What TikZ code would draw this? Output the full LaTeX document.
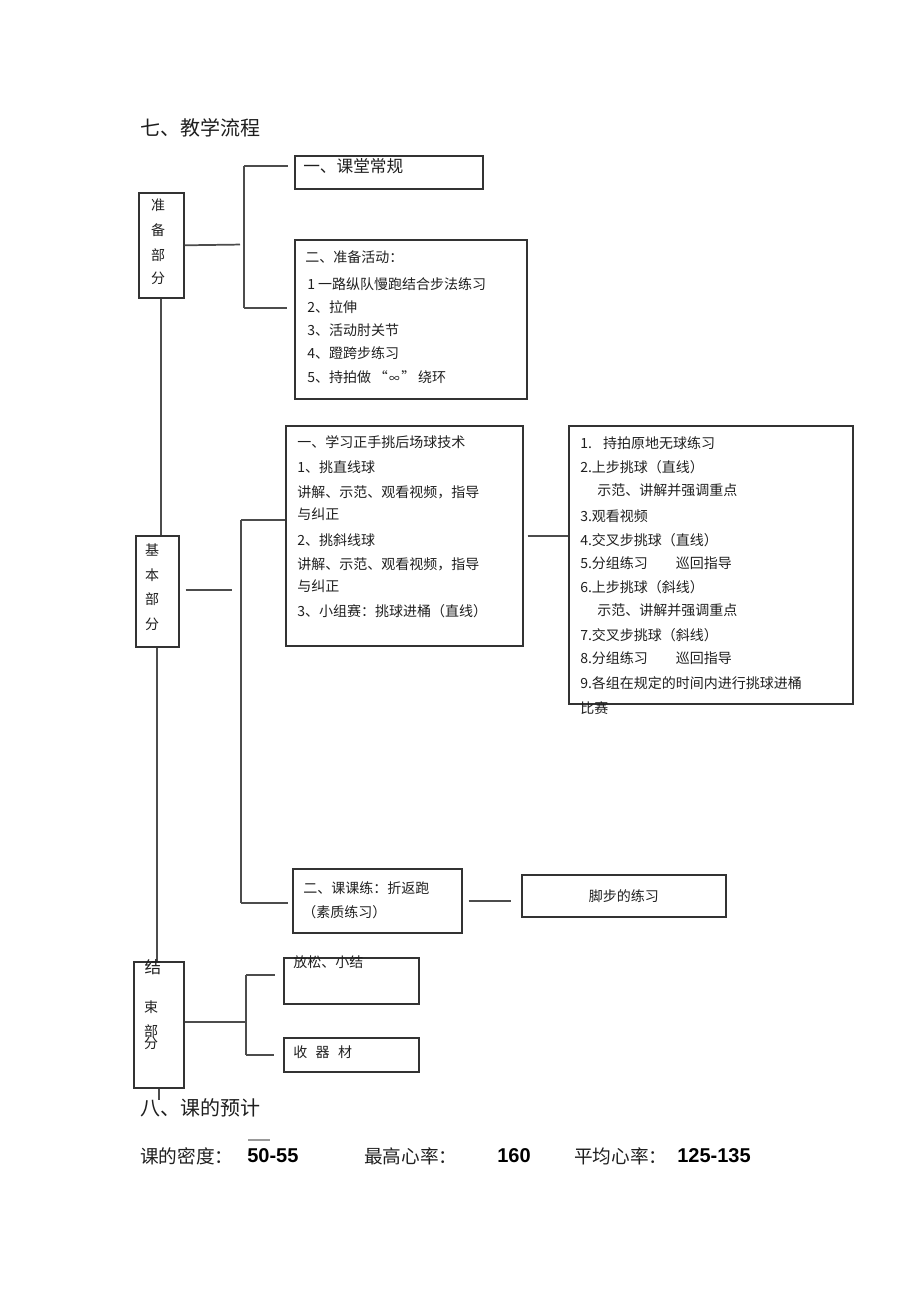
\documentclass[tikz,border=0pt]{standalone}
\usepackage{fontspec}
\setmainfont{Noto Sans CJK SC}
\newfontfamily\arialf{Liberation Sans}
\begin{document}
\begin{tikzpicture}[x=0.75pt,y=-0.75pt,
  box/.style n args={2}{draw=black!80, line width=1.2pt, inner sep=0, anchor=north west,
     minimum width=#1*0.75pt, minimum height=#2*0.75pt},
  conn/.style={draw=black!70, line width=1.3pt},
  txt/.style={anchor=west, inner sep=0, font=\fontsize{10.5}{12}\selectfont, text=black!88},
  vch/.style={anchor=center, inner sep=0, font=\fontsize{10.5}{12}\selectfont, text=black!88},
  head/.style={anchor=west, inner sep=0, font=\fontsize{15}{18}\selectfont, text=black!88},
  big/.style={anchor=west, inner sep=0, font=\fontsize{14}{17}\selectfont, text=black!88},
  num/.style={anchor=west, inner sep=0, font=\arialf\bfseries\fontsize{15}{18}\selectfont},
]
\useasboundingbox (0,0) rectangle (920,1303);

% ---------- boxes ----------
\node[box={45}{105}]  (zb)  at (138,192) {};
\node[box={188}{33}]  (kt)  at (294,155) {};
\node[box={232}{159}] (zh)  at (294,239) {};
\node[box={43}{111}]  (jb)  at (135,535) {};
\node[box={237}{220}] (xx)  at (285,425) {};
\node[box={284}{278}] (lx)  at (568,425) {};
\node[box={169}{64}]  (kk)  at (292,868) {};
\node[box={204}{42}]  (jbl) at (521,874) {};
\node[box={50}{126}]  (js)  at (133,961) {};
\node[box={135}{46}]  (fs)  at (283,957) {};
\node[box={135}{34}]  (sq)  at (283,1037) {};

% ---------- bracket coordinates ----------
\coordinate (b1m) at (244,244.5);
\coordinate (b1t) at (244,166);
\coordinate (b1b) at (244,308);
\coordinate (b2m) at (241,590);
\coordinate (b2t) at (241,520);
\coordinate (b2b) at (241,903);
\coordinate (b3m) at (246,1022);
\coordinate (b3t) at (246,975);
\coordinate (b3b) at (246,1055);
\coordinate (tail) at (155,1100);
\coordinate (m1) at (248,1140);
\coordinate (m2) at (270,1140);

% ---------- connectors ----------
\draw[conn] (zb.south) -- (zb.south |- jb.north);
\draw[conn] (jb.south) -- (jb.south |- js.north);
\draw[conn] (js.south) -- (js.south |- tail);

\draw[conn, shorten >=3pt] (zb.east) -- (b1m);
\draw[conn] (b1t) -- (b1b);
\draw[conn, shorten >=4.5pt] (b1t) -- (b1t -| kt.west);
\draw[conn, shorten >=5pt] (b1b) -- (b1b -| zh.west);

\draw[conn, shorten <=4.5pt, shorten >=7pt] (jb.east |- b2m) -- (b2m);
\draw[conn] (b2t) -- (b2b);
\draw[conn] (b2t) -- (b2t -| xx.west);
\draw[conn, shorten >=3pt] (b2b) -- (b2b -| kk.west);

\draw[conn, shorten <=3pt] (xx.east) -- (xx.east -| lx.west);
\draw[conn, shorten <=4.5pt, shorten >=7.5pt] (kk.east) -- (kk.east -| jbl.west);

\draw[conn] (js.east |- b3m) -- (b3m);
\draw[conn] (b3t) -- (b3b);
\draw[conn, shorten >=6pt] (b3t) -- (b3t -| fs.west);
\draw[conn, shorten >=7pt] (b3b) -- (b3b -| sq.west);

\draw[draw=black!40, line width=1.2pt] (m1) -- (m2);

% ---------- texts ----------
\node[head] (title1) at (140,128) {七、教学流程};

\node[vch] (zb1) at (158,205) {准};
\node[vch] (zb2) at (158,230) {备};
\node[vch] (zb3) at (158,255) {部};
\node[vch] (zb4) at (158,278) {分};

\node[anchor=west, inner sep=0, font=\fontsize{12.5}{15}\selectfont, text=black!88] (kt1) at (303,166) {一、课堂常规};

\node[txt] (zh1) at (305,257) {二、准备活动：};
\node[txt] (zh2) at (307,284) {1 一路纵队慢跑结合步法练习};
\node[txt] (zh3) at (307,307) {2、拉伸};
\node[txt] (zh4) at (307,330) {3、活动肘关节};
\node[txt] (zh5) at (307,353) {4、蹬跨步练习};
\node[txt] (zh6) at (307,377) {5、持拍做\hspace{0.2em}“\hspace{0.1em}{\fontsize{8}{10}\selectfont ∞}\hspace{0.1em}”\hspace{0.2em}绕环};

\node[vch] (jb1) at (152,550) {基};
\node[vch] (jb2) at (152,575) {本};
\node[vch] (jb3) at (152,599) {部};
\node[vch] (jb4) at (152,624) {分};

\node[txt] (xx1) at (297,442) {一、学习正手挑后场球技术};
\node[txt] (xx2) at (297,467) {1、挑直线球};
\node[txt] (xx3) at (297,492) {讲解、示范、观看视频，指导};
\node[txt] (xx4) at (297,514) {与纠正};
\node[txt] (xx5) at (297,540) {2、挑斜线球};
\node[txt] (xx6) at (297,564) {讲解、示范、观看视频，指导};
\node[txt] (xx7) at (297,586) {与纠正};
\node[txt] (xx8) at (297,611) {3、小组赛：挑球进桶（直线）};

\node[txt] (lx1)  at (580,443) {1.\hspace{0.8em}持拍原地无球练习};
\node[txt] (lx2)  at (580,467) {2.上步挑球（直线）};
\node[txt] (lx3)  at (597,490) {示范、讲解并强调重点};
\node[txt] (lx4)  at (580,516) {3.观看视频};
\node[txt] (lx5)  at (580,540) {4.交叉步挑球（直线）};
\node[txt] (lx6)  at (580,563) {5.分组练习\hspace{2em}巡回指导};
\node[txt] (lx7)  at (580,587) {6.上步挑球（斜线）};
\node[txt] (lx8)  at (597,610) {示范、讲解并强调重点};
\node[txt] (lx9)  at (580,635) {7.交叉步挑球（斜线）};
\node[txt] (lx10) at (580,658) {8.分组练习\hspace{2em}巡回指导};
\node[txt] (lx11) at (580,683) {9.各组在规定的时间内进行挑球进桶};
\node[txt] (lx12) at (580,708) {比赛};

\node[txt] (kk1) at (303,888) {二、课课练：折返跑};
\node[txt] (kk2) at (302,912) {（素质练习）};
\node[vch] (jbl1) at (jbl.center) {脚步的练习};

\node[anchor=center, inner sep=0, font=\fontsize{12.5}{15}\selectfont, text=black!88] (js1) at (153,967) {结};
\node[vch] (js2) at (151,1007) {束};
\node[vch] (js3) at (151,1031) {部};
\node[vch] (js4) at (151,1043) {分};

\node[txt] (fs1) at (293,962) {放松、小结};
\node[txt] (sq1) at (293,1052) {收\hspace{0.6em}器\hspace{0.6em}材};

\node[head] (title2) at (140,1108) {八、课的预计};
\node[big] (p1) at (140,1156) {课的密度：};
\node[num] (p2) at (247,1156) {50-55};
\node[big] (p3) at (364,1156) {最高心率：};
\node[num] (p4) at (497,1156) {160};
\node[big] (p5) at (574,1156) {平均心率：};
\node[num] (p6) at (677,1156) {125-135};
\end{tikzpicture}
\end{document}
